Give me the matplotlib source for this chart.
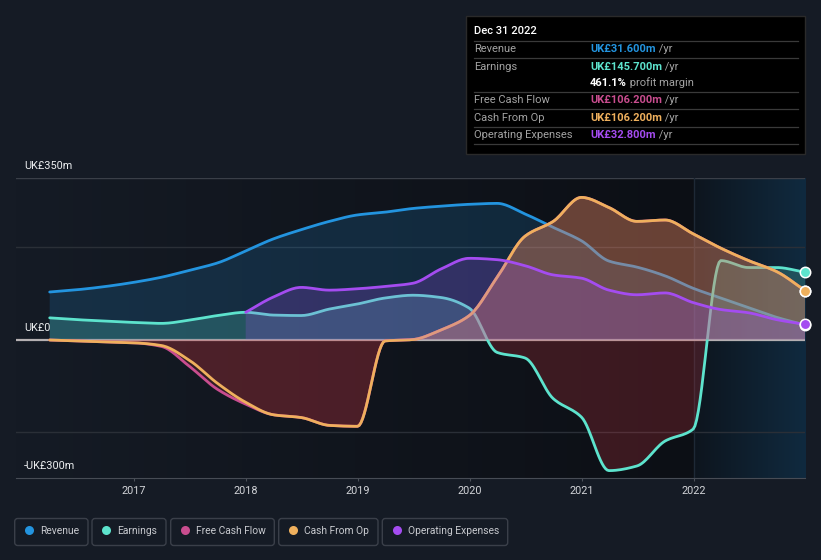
import matplotlib.pyplot as plt
import matplotlib.dates as mdates
import numpy as np
import pandas as pd
from matplotlib.patches import FancyBboxPatch, Rectangle
from matplotlib.transforms import blended_transform_factory

plt.rcParams['font.family'] = ['Roboto', 'DejaVu Sans']

# quarterly figures, UK£m (trailing twelve months)
quarters = pd.period_range('2016Q1', '2022Q4', freq='Q').end_time.normalize()

revenue = [103, 108, 115, 124, 135, 150, 166, 192, 218, 238, 256, 270, 276, 284,
           289, 293, 295, 272, 243, 214, 170, 157, 138, 111, 90, 69, 48, 31.6]
earnings = [47, 43, 40, 37, 35, 42, 52, 59, 53, 52, 66, 77, 90, 96,
            91, 68, -28, -40, -128, -168, -284, -274, -220, -194, 171, 156, 156, 145.7]
free_cash_flow = [-1, -3, -5, -7, -15, -58, -108, -140, -163, -169, -186, -188, -3, 0,
                  21, 52, 135, 224, 256, 308, 286, 256, 259, 229, 198, 171, 147, 106.2]
cash_from_op = [-1, -3, -5, -7, -13, -45, -95, -136, -163, -169, -186, -188, -3, 0,
                21, 52, 135, 224, 256, 308, 286, 256, 259, 229, 198, 171, 147, 106.2]
# operating expenses only reported from 2018
opex_start = 7
operating_expenses = [59, 92, 113, 107, 110, 115, 122, 153, 176, 173, 160, 140, 133,
                      107, 97, 101, 80, 65, 58, 43, 32.8]

series_names = ['Revenue', 'Earnings', 'Free Cash Flow', 'Cash From Op', 'Operating Expenses']
series_colors = ['#2394df', '#5de3cd', '#c94d8f', '#efb05d', '#a44cf0']
tick_years = [2017, 2018, 2019, 2020, 2021, 2022]

tooltip_title = 'Dec 31 2022'
tooltip_rows = [('Revenue', 'UK£31.600m', ' /yr', series_colors[0]),
                ('Earnings', 'UK£145.700m', ' /yr', series_colors[1]),
                ('', '461.1%', ' profit margin', '#ffffff'),
                ('Free Cash Flow', 'UK£106.200m', ' /yr', series_colors[2]),
                ('Cash From Op', 'UK£106.200m', ' /yr', series_colors[3]),
                ('Operating Expenses', 'UK£32.800m', ' /yr', series_colors[4])]

BG = '#151b25'
NEG = '#d23741'


def smooth(x, y, n=16):
    # monotone cubic curve through the points, for drawing only
    x = np.asarray(x, float)
    y = np.asarray(y, float)
    h = np.diff(x)
    d = np.diff(y) / h
    m = np.zeros_like(y)
    m[0], m[-1] = d[0], d[-1]
    for i in range(1, len(y) - 1):
        if d[i - 1] * d[i] > 0:
            w1 = 2 * h[i] + h[i - 1]
            w2 = h[i] + 2 * h[i - 1]
            m[i] = (w1 + w2) / (w1 / d[i - 1] + w2 / d[i])
    xs, ys = [], []
    t = np.linspace(0, 1, n, endpoint=False)
    h00 = 2 * t ** 3 - 3 * t ** 2 + 1
    h10 = t ** 3 - 2 * t ** 2 + t
    h01 = -2 * t ** 3 + 3 * t ** 2
    h11 = t ** 3 - t ** 2
    for i in range(len(h)):
        xs.append(x[i] + t * h[i])
        ys.append(h00 * y[i] + h10 * h[i] * m[i] + h01 * y[i + 1] + h11 * h[i] * m[i + 1])
    xs.append([x[-1]])
    ys.append([y[-1]])
    return np.concatenate(xs), np.concatenate(ys)


fig = plt.figure(figsize=(8.21, 5.6), dpi=100)
fig.patch.set_facecolor(BG)
ax = fig.add_axes([16 / 821, 82 / 560, 789 / 821, 300 / 560])
ax.set_facecolor(BG)

xnum = mdates.date2num(quarters)
x_left = mdates.date2num(pd.Timestamp('2015-12-12'))
x_right = xnum[-1]
x_2022 = mdates.date2num(pd.Timestamp('2022-01-01'))

# background: darkening towards 2022, bluish band for the last year
split = (x_2022 - x_left) / (x_right - x_left)
pos = np.linspace(0, 1, 800)
c0 = np.array([21, 27, 37]); c1 = np.array([12, 15, 21])
c2 = np.array([13, 21, 30]); c3 = np.array([16, 42, 63])
grad = np.where((pos < split)[:, None],
                c0 + (c1 - c0) * (pos / split)[:, None],
                c2 + (c3 - c2) * ((pos - split) / (1 - split))[:, None])
ax.imshow(grad[None, :, :] / 255.0, extent=[0, 1, 0, 1], transform=ax.transAxes,
          aspect='auto', zorder=0, interpolation='bilinear')

for yv, col in [(350, '#3a3f48'), (200, '#2a2f37'), (-200, '#2a2f37')]:
    ax.axhline(yv, color=col, lw=1, zorder=1)
ax.axvline(x_2022, color='#1e2936', lw=1, zorder=1)
ax.axhline(0, color='#b5b0b2', lw=1.6, zorder=2.5)

data = [revenue, earnings, free_cash_flow, cash_from_op, operating_expenses]
pos_fill = [('#2394df', 0.18), ('#5de3cd', 0.22), ('#c94d6f', 0.2),
            ('#e89a5a', 0.3), ('#a44cf0', 0.22)]
neg_alpha = [0.17, 0.24, 0.17, 0.17, 0.17]

for i, (vals, color) in enumerate(zip(data, series_colors)):
    xv = xnum[opex_start:] if i == 4 else xnum
    xs, ys = smooth(xv, vals)
    z = 3 + 2 * i
    fc, fa = pos_fill[i]
    ax.fill_between(xs, ys, 0, where=ys >= 0, interpolate=True, facecolor=fc,
                    alpha=fa, edgecolor='none', linewidth=0, zorder=z)
    ax.fill_between(xs, ys, 0, where=ys <= 0, interpolate=True, facecolor=NEG,
                    alpha=neg_alpha[i], edgecolor='none', linewidth=0, zorder=z)
    ax.plot(xs, ys, color=color, lw=2, solid_capstyle='round', zorder=z + 1)

for i, (vals, color) in enumerate(zip(data, series_colors)):
    ax.plot(xnum[-1], vals[-1], 'o', ms=7.5, mfc=color, mec='white', mew=1.1,
            clip_on=False, zorder=20)

ax.set_xlim(x_left, x_right)
ax.set_ylim(-300, 350)
for s in ['top', 'left', 'right']:
    ax.spines[s].set_visible(False)
ax.spines['bottom'].set_color('#474c55')
ax.spines['bottom'].set_zorder(1)
ax.set_xticks([mdates.date2num(pd.Timestamp(f'{y}-01-01')) for y in tick_years])
ax.set_xticklabels([str(y) for y in tick_years])
ax.set_yticks([])
ax.tick_params(axis='x', colors='#4a4f58', labelcolor='#d2d4d8', labelsize=7.8,
               length=2.5, pad=3.5)

ylab = blended_transform_factory(ax.transAxes, ax.transData)
for yv, txt in [(350, 'UK£350m'), (0, 'UK£0'), (-300, '-UK£300m')]:
    ax.annotate(txt, xy=(0, yv), xycoords=ylab, xytext=(5.8, 8.6), textcoords='offset points',
                color='#eceef0', fontsize=7.8, va='center', ha='left', zorder=30)

# overlay in pixel coordinates for tooltip and legend
ov = fig.add_axes([0, 0, 1, 1], zorder=5)
ov.set_xlim(0, 821)
ov.set_ylim(560, 0)
ov.axis('off')

ov.add_patch(Rectangle((466, 16), 339, 138, facecolor='#000000', edgecolor='#2a2a2a', lw=1))
ov.text(474, 31, tooltip_title, color='#ffffff', fontsize=8, va='center', ha='left',
        fontweight='medium')
for yl in [41, 58.3, 92.3, 109.3, 126.7, 144.3]:
    ov.plot([474, 798], [yl, yl], color='#3a3a3a', lw=0.9)
row_y = [49.5, 66.7, 83.5, 100.3, 117.7, 134.5]
for (label, value, unit, vcol), yy in zip(tooltip_rows, row_y):
    if label:
        ov.text(474, yy, label, color='#a3a3a3', fontsize=8, va='center', ha='left')
    t = ov.text(590, yy, value, color=vcol, fontsize=8, va='center', ha='left',
                fontweight='bold')
    ov.annotate(unit, xy=(1, 0), xycoords=t, va='bottom', ha='left',
                color='#a3a3a3', fontsize=8)

legend_boxes = [(14.7, 88), (92, 166), (170.7, 274.3), (278.7, 378), (382.3, 507.7)]
for (x0, x1), name, color in zip(legend_boxes, series_names, series_colors):
    ov.add_patch(FancyBboxPatch((x0, 518.5), x1 - x0, 27, boxstyle='round,pad=0,rounding_size=3',
                                facecolor='none', edgecolor='#3a3f49', lw=1))
    ov.plot(x0 + 14.3, 530, 'o', ms=6.5, color=color, mec='none')
    ov.text(x0 + 25.5, 530.5, name, color='#c8cacf', fontsize=7.4, va='center', ha='left')

fig.savefig('out.png', dpi=100, facecolor=BG)
